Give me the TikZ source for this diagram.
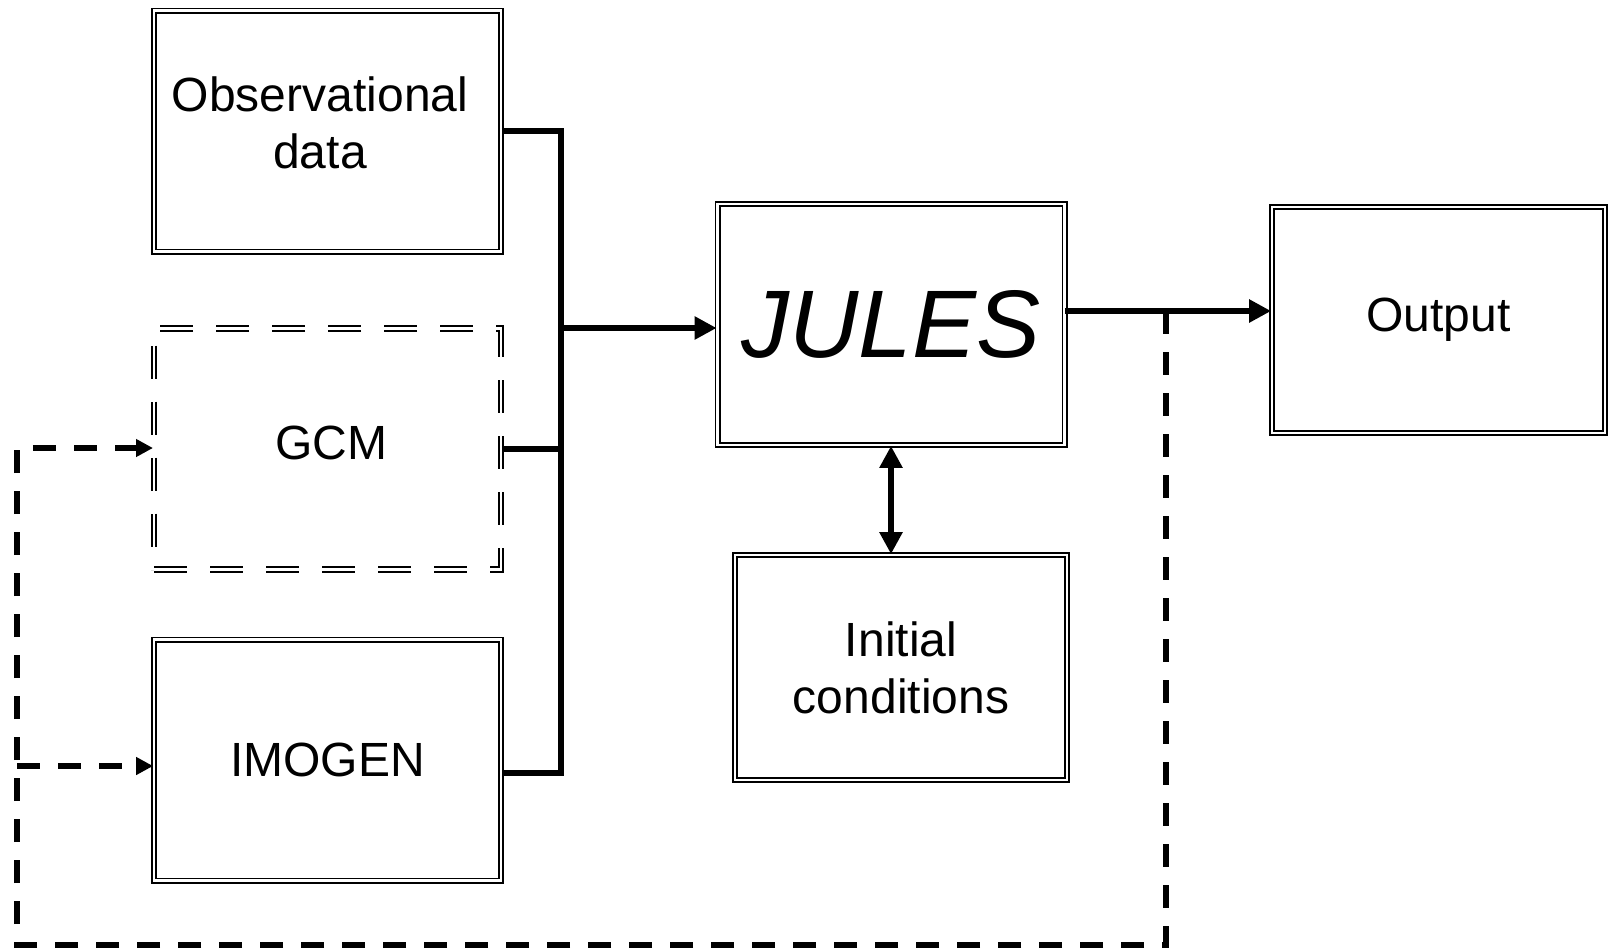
\documentclass[tikz,border=0pt]{standalone}
\usepackage{fontspec}
\setmainfont{Liberation Sans}
\usetikzlibrary{arrows.meta,calc}
\begin{document}
\begin{tikzpicture}[x=0.5pt,y=-0.5pt,
  box/.style={draw=black, line width=0.9pt, double=white, double distance=1.2pt,
    inner sep=0pt, align=center, font=\fontsize{24}{28.5}\selectfont},
  bigbox/.style={box, minimum width=173.5pt, minimum height=120.5pt},
  dbox/.style={bigbox, line width=1pt, dash pattern=on 16.5pt off 11.5pt},
  txt/.style={inner sep=0pt, align=center, font=\fontsize{24}{28.5}\selectfont},
  conn/.style={line width=2.9pt},
  tip/.style={-{Triangle[length=11pt,width=11pt]}},
  fb/.style={line width=3pt, dash pattern=on 11.5pt off 9pt},
  fbtip/.style={-{Triangle[length=8.5pt,width=8.5pt]}}
]
\useasboundingbox (0,0) rectangle (1612,949);
% boxes
\node[bigbox] (obs) at (327.5,131) {};
\node[txt] (obstext) at (320,123) {Observational\\data};
\node[dbox] (gcm) at (327.5,449) {};
\node[txt] (gcmtext) at (331,443) {GCM};
\node[bigbox] (imogen) at (327.5,760) {IMOGEN};
\node[bigbox, font=\fontsize{48}{50}\selectfont\itshape] (jules) at (891,324.5) {JULES};
\node[box, minimum width=166.5pt, minimum height=113pt] (out) at (1438.5,320) {Output};
\node[box, minimum width=166pt, minimum height=112.5pt] (init) at (901,667.5) {Initial\\conditions};
% bus
\coordinate (bt) at (561,131);
\coordinate (bb) at (561,773);
\coordinate (bj) at (561,328);
\coordinate (io) at ($(imogen.east)+(0,13)$);
\draw[conn] (obs.east) -- (bt) -- (bb) -- (io);
\draw[conn] (gcm.east) -- (gcm.east -| bt);
\draw[conn, tip] (bj) -- (bj -| jules.west);
% JULES <-> initial conditions
\draw[conn, {Triangle[length=11pt,width=11pt]}-{Triangle[length=11pt,width=11pt]}] (jules.south) -- (jules.south |- init.north);
% JULES -> Output
\coordinate (jo) at ($(jules.east)+(0,-13.5)$);
\coordinate (jn) at (1166,311);
\draw[conn, tip] (jo) -- (jo -| out.west);
% feedback
\coordinate (fbr) at (1166,945);
\coordinate (fbl) at (17,945);
\coordinate (fbt) at (17,448);
\coordinate (fbi) at (17,766);
\draw[fb, fbtip] (jn) -- (fbr) -- (fbl) -- (fbt) -- (fbt -| gcm.west);
\draw[fb, fbtip] (fbi) -- (fbi -| imogen.west);
\end{tikzpicture}
\end{document}
